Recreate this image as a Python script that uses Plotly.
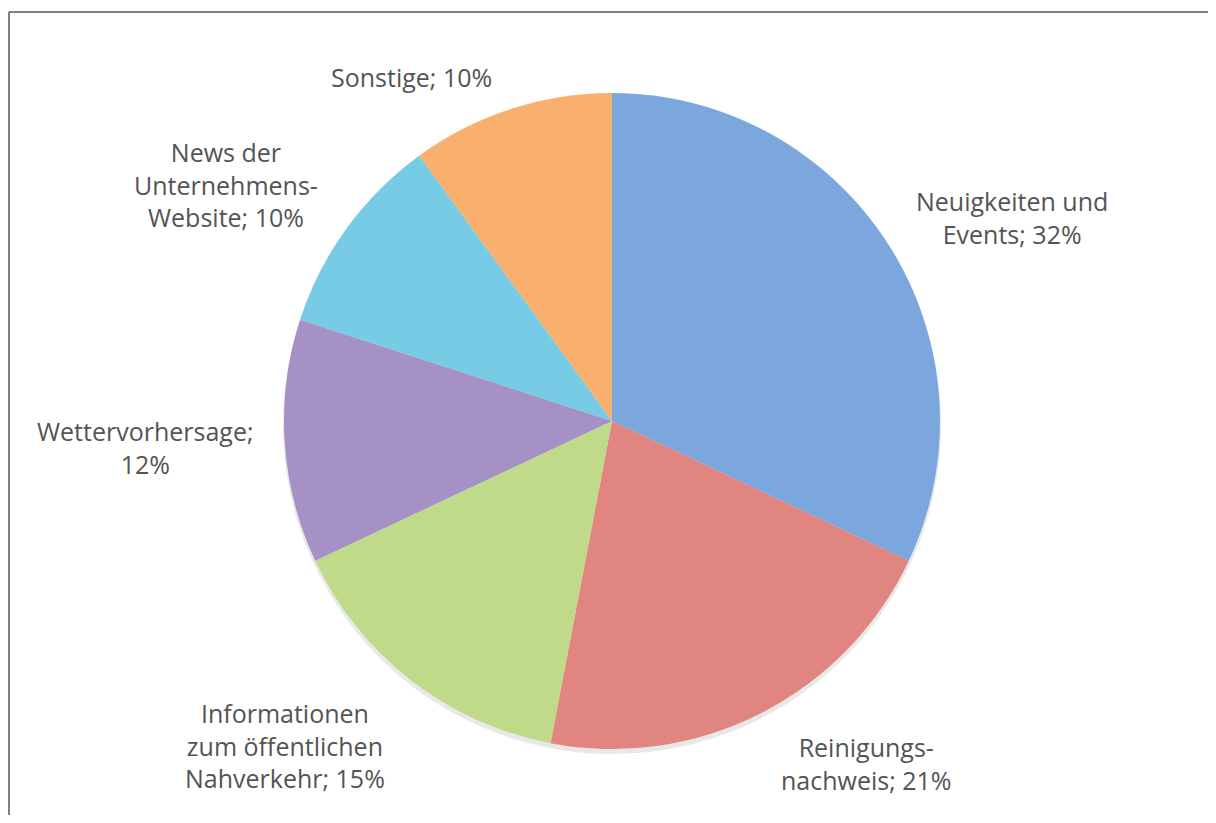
import plotly.graph_objects as go

labels = ["Neuigkeiten und Events", "Reinigungsnachweis",
          "Informationen zum öffentlichen Nahverkehr", "Wettervorhersage",
          "News der Unternehmens-Website", "Sonstige"]
values = [32, 21, 15, 12, 10, 10]
label_text = ["Neuigkeiten und<br>Events; 32%", "Reinigungs-<br>nachweis; 21%",
              "Informationen<br>zum öffentlichen<br>Nahverkehr; 15%",
              "Wettervorhersage;<br>12%", "News der<br>Unternehmens-<br>Website; 10%",
              "Sonstige; 10%"]
colors = ["#7ca7de", "#e08580", "#bfda88", "#a691c7", "#77cbe4", "#f9b06f"]

# page body has an 8px margin; work in figure pixel coordinates
OFF = 8
W, H = 1200, 807
cx, cy, r = 612 - OFF, 421 - OFF, 328

def dom(cx, cy, r):
    return dict(x=[(cx - r) / W, (cx + r) / W], y=[(H - cy - r) / H, (H - cy + r) / H])

fig = go.Figure()
# soft shadow
fig.add_trace(go.Pie(values=values, sort=False, direction="clockwise", rotation=0,
                     marker=dict(colors=["rgba(0,0,0,0.09)"] * len(values), line=dict(width=0)),
                     textinfo="none", hoverinfo="skip", showlegend=False,
                     domain=dom(cx, cy + 4, r + 1)))
fig.add_trace(go.Pie(labels=labels, values=values, sort=False, direction="clockwise", rotation=0,
                     marker=dict(colors=colors, line=dict(width=0)),
                     textinfo="none", showlegend=False, domain=dom(cx, cy, r)))

label_pos = [(1012, 217), (866, 763), (285, 745), (145, 447), (226, 184), (411, 77)]
for t, (x, y) in zip(label_text, label_pos):
    fig.add_annotation(x=(x - OFF) / W, y=1 - (y - OFF) / H, xref="paper", yref="paper", text=t,
                       showarrow=False, align="center", xanchor="center", yanchor="middle",
                       font=dict(family="Open Sans", size=25, color="#545454"))

top_y = 1 - (12 - OFF) / H
fig.add_shape(type="line", xref="paper", yref="paper", x0=1 / W, x1=1.0, y0=top_y, y1=top_y,
              line=dict(color="#808080", width=2))
fig.add_shape(type="line", xref="paper", yref="paper", x0=1 / W, x1=1 / W, y0=0.0, y1=top_y,
              line=dict(color="#808080", width=2))

fig.update_layout(width=W, height=H, margin=dict(l=0, r=0, t=0, b=0),
                  paper_bgcolor="white", plot_bgcolor="white")
fig.write_html("out.html")
